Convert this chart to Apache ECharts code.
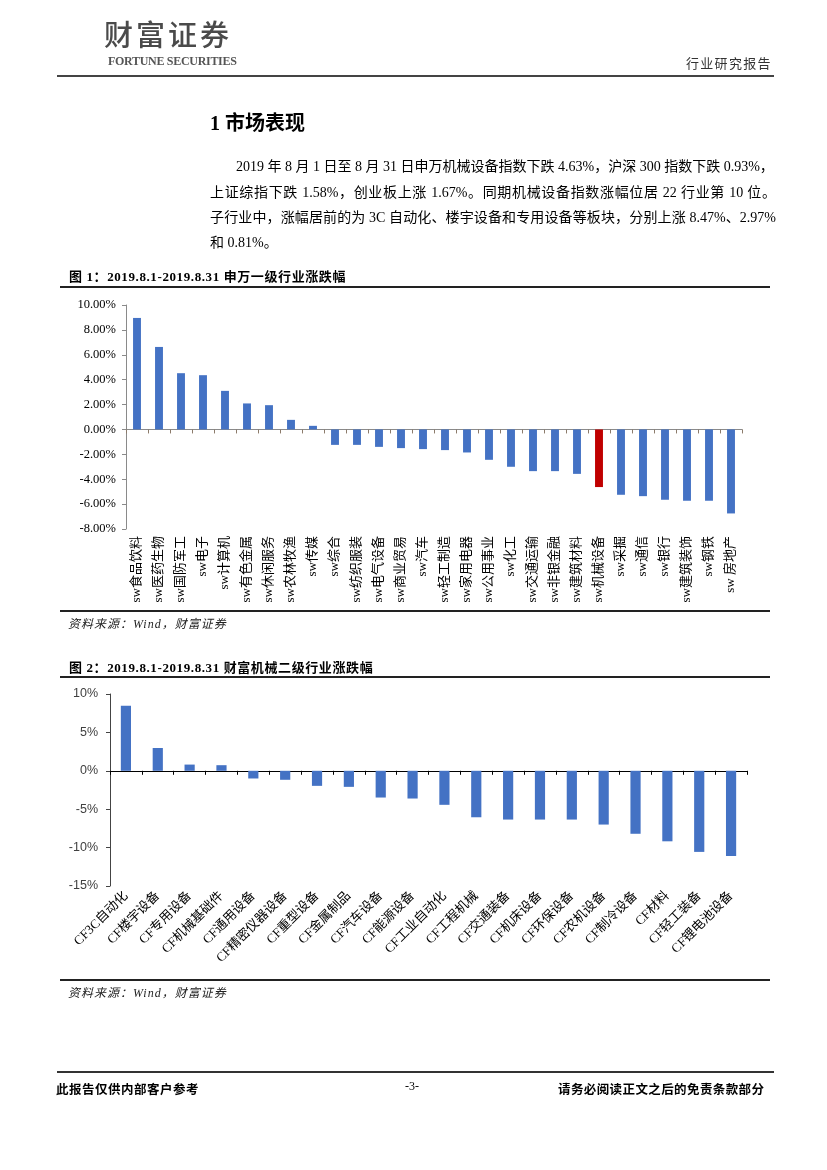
<!DOCTYPE html>
<html><head><meta charset="utf-8">
<script src="https://cdn.jsdelivr.net/npm/echarts@6/dist/echarts.min.js"></script>
<style>
html,body{margin:0;padding:0;background:#fff;}
body{width:827px;height:1170px;position:relative;overflow:hidden;font-family:'Liberation Serif','Noto Sans CJK SC',serif;color:#000;}
.abs{position:absolute;white-space:nowrap;}
.hl{position:absolute;background:#222;}
.para{position:absolute;font-size:14px;line-height:18px;text-align:justify;text-align-last:justify;white-space:nowrap;}
.ftitle{position:absolute;font-size:13px;font-weight:bold;letter-spacing:0.6px;}
.src{position:absolute;font-size:12px;font-style:italic;color:#222;letter-spacing:1px;}
#chart{position:absolute;left:0;top:0;width:827px;height:1170px;}
</style></head>
<body>
<div id="chart"></div>
<div class="abs" style="left:104px;top:12px;font-size:29px;color:#4a4a4a;letter-spacing:3px;font-family:'Noto Sans CJK SC';font-weight:500;">财富证券</div>
<div class="abs" style="left:108px;top:54px;font-size:12px;font-weight:bold;color:#555;letter-spacing:-0.3px;">FORTUNE SECURITIES</div>
<div class="abs" style="left:686px;top:53px;font-size:13px;color:#333;letter-spacing:1.3px;font-family:'Noto Sans CJK SC';">行业研究报告</div>
<div class="hl" style="left:57px;top:75px;width:717px;height:2px;background:#444;"></div>

<div class="abs" style="left:210px;top:107px;font-size:20px;font-weight:bold;font-family:'Liberation Serif','Noto Sans CJK SC';">1 市场表现</div>
<div class="para" style="left:236px;top:158px;width:532px;">2019 年 8 月 1 日至 8 月 31 日申万机械设备指数下跌 4.63%，沪深 300 指数下跌 0.93%，</div>
<div class="para" style="left:210px;top:184px;width:566px;">上证综指下跌 1.58%，创业板上涨 1.67%。同期机械设备指数涨幅位居 22 行业第 10 位。</div>
<div class="para" style="left:210px;top:209px;width:566px;">子行业中，涨幅居前的为 3C 自动化、楼宇设备和专用设备等板块，分别上涨 8.47%、2.97%</div>
<div class="abs" style="left:210px;top:234px;font-size:14px;line-height:18px;">和 0.81%。</div>

<div class="ftitle" style="left:69px;top:266px;">图 1：2019.8.1-2019.8.31 申万一级行业涨跌幅</div>
<div class="hl" style="left:60px;top:286px;width:710px;height:2px;"></div>
<div class="hl" style="left:60px;top:610px;width:710px;height:2px;"></div>
<div class="src" style="left:68px;top:614px;">资料来源：Wind，财富证券</div>

<div class="ftitle" style="left:69px;top:657px;">图 2：2019.8.1-2019.8.31 财富机械二级行业涨跌幅</div>
<div class="hl" style="left:60px;top:676px;width:710px;height:2px;"></div>
<div class="hl" style="left:60px;top:979px;width:710px;height:2px;"></div>
<div class="src" style="left:68px;top:983px;">资料来源：Wind，财富证券</div>

<div class="hl" style="left:57px;top:1071px;width:717px;height:2px;background:#333;"></div>
<div class="abs" style="left:56px;top:1079px;font-size:12.5px;font-weight:bold;letter-spacing:0.5px;font-family:'Noto Sans CJK SC';">此报告仅供内部客户参考</div>
<div class="abs" style="left:405px;top:1079px;font-size:12px;">-3-</div>
<div class="abs" style="left:558px;top:1079px;font-size:12.5px;font-weight:bold;letter-spacing:0.4px;font-family:'Noto Sans CJK SC';">请务必阅读正文之后的免责条款部分</div>

<script>
// ---- Figure 1 data ----
const cat1 = ['sw食品饮料','sw医药生物','sw国防军工','sw电子','sw计算机','sw有色金属','sw休闲服务','sw农林牧渔','sw传媒','sw综合','sw纺织服装','sw电气设备','sw商业贸易','sw汽车','sw轻工制造','sw家用电器','sw公用事业','sw化工','sw交通运输','sw非银金融','sw建筑材料','sw机械设备','sw采掘','sw通信','sw银行','sw建筑装饰','sw钢铁','sw 房地产'];
const val1 = [8.96,6.63,4.52,4.36,3.10,2.09,1.95,0.77,0.29,-1.24,-1.24,-1.40,-1.50,-1.58,-1.66,-1.85,-2.44,-3.00,-3.35,-3.35,-3.57,-4.63,-5.25,-5.36,-5.65,-5.73,-5.73,-6.75];
const highlight1 = 'sw机械设备';
const yMin1 = -8, yMax1 = 10, yStep1 = 2;

// ---- Figure 2 data ----
const cat2 = ['CF3C自动化','CF楼宇设备','CF专用设备','CF机械基础件','CF通用设备','CF精密仪器设备','CF重型设备','CF金属制品','CF汽车设备','CF能源设备','CF工业自动化','CF工程机械','CF交通装备','CF机床设备','CF环保设备','CF农机设备','CF制冷设备','CF材料','CF轻工装备','CF锂电池设备'];
const val2 = [8.47,2.97,0.81,0.73,-1.00,-1.17,-1.96,-2.09,-3.48,-3.61,-4.43,-6.05,-6.35,-6.35,-6.35,-7.00,-8.20,-9.18,-10.56,-11.08];
const yMin2 = -15, yMax2 = 10, yStep2 = 5;

const BLUE = '#4472C4', RED = '#C00000';
const serif = "'Liberation Serif','Noto Sans CJK SC',serif";
const sans = "'Liberation Sans','Noto Sans CJK SC',sans-serif";

const chart = echarts.init(document.getElementById('chart'), null, {renderer:'canvas'});
chart.setOption({
  animation:false,
  grid:[
    {left:126, top:305, width:616, height:224, containLabel:false},
    {left:110, top:694, width:637, height:192, containLabel:false}
  ],
  xAxis:[
    {gridIndex:0, type:'category', data:cat1, position:'bottom',
     axisLine:{onZero:true, lineStyle:{color:'#8a8a8a', width:1}},
     axisTick:{show:true, interval:0, length:4, inside:false, lineStyle:{color:'#8c7b6b'}},
     axisLabel:{show:false}},
    {gridIndex:0, type:'category', data:cat1, position:'bottom',
     axisLine:{show:false, onZero:false}, axisTick:{show:false},
     axisLabel:{interval:0, rotate:90, margin:7, fontSize:13, color:'#000', fontFamily:serif}},
    {gridIndex:1, type:'category', data:cat2, position:'bottom',
     axisLine:{onZero:true, lineStyle:{color:'#000', width:1}},
     axisTick:{show:true, interval:0, length:4, lineStyle:{color:'#000'}},
     axisLabel:{show:false}},
    {gridIndex:1, type:'category', data:cat2, position:'bottom',
     axisLine:{show:false, onZero:false}, axisTick:{show:false},
     axisLabel:{interval:0, rotate:45, margin:8, fontSize:13, color:'#000', fontFamily:serif}}
  ],
  yAxis:[
    {gridIndex:0, type:'value', min:yMin1, max:yMax1, interval:yStep1,
     axisLine:{show:true, lineStyle:{color:'#8a8a8a'}},
     axisTick:{show:true, length:4, lineStyle:{color:'#8a8a8a'}},
     splitLine:{show:false},
     axisLabel:{formatter:v=>v.toFixed(2)+'%', fontSize:12.5, color:'#000', fontFamily:serif, margin:10}},
    {gridIndex:1, type:'value', min:yMin2, max:yMax2, interval:yStep2,
     axisLine:{show:true, lineStyle:{color:'#444'}},
     axisTick:{show:true, length:4, lineStyle:{color:'#444'}},
     splitLine:{show:false},
     axisLabel:{formatter:v=>v+'%', fontSize:12.5, color:'#404040', fontFamily:sans, margin:12}}
  ],
  series:[
    {type:'bar', xAxisIndex:0, yAxisIndex:0, barWidth:'36%',
     data:val1.map((v,i)=>({value:v, itemStyle:{color: cat1[i]===highlight1 ? RED : BLUE}}))},
    {type:'bar', xAxisIndex:2, yAxisIndex:1, barWidth:'32%',
     itemStyle:{color:BLUE}, data:val2}
  ]
});
</script>
</body></html>
